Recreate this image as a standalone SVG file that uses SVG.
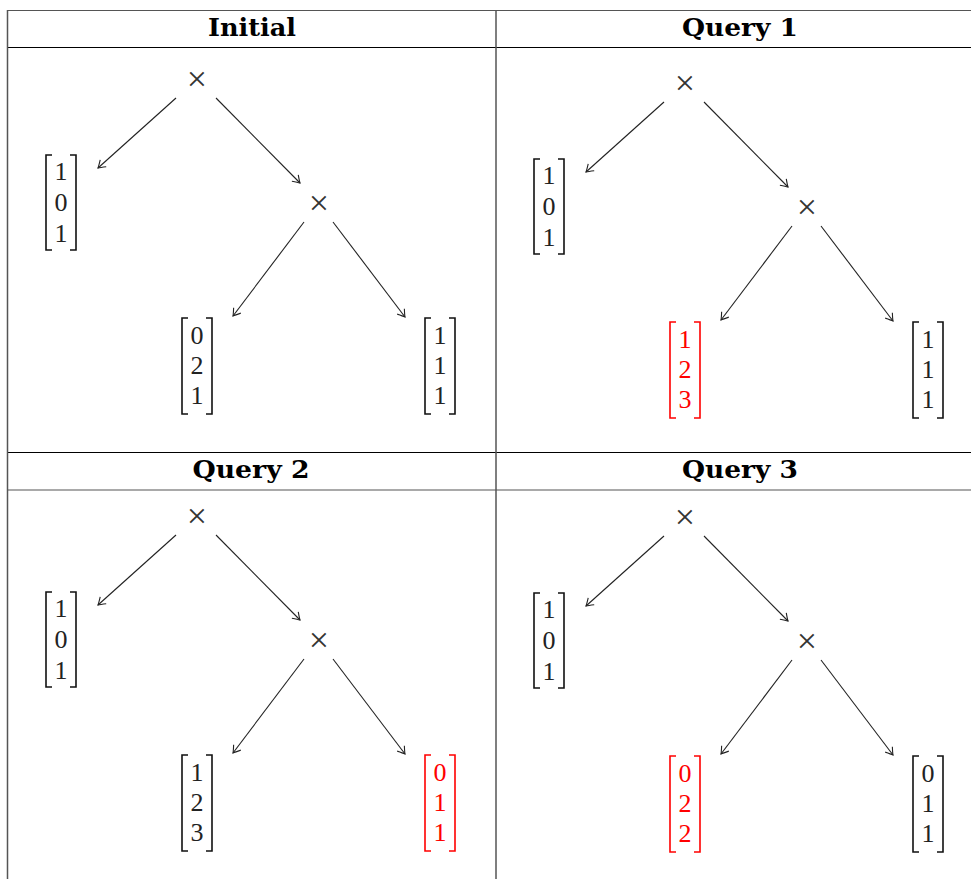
<svg xmlns="http://www.w3.org/2000/svg" width="971" height="879" viewBox="0 0 971 879">
<defs>
<style>
.hline{stroke:#000;stroke-width:1.2;fill:none}
.vline{stroke:#555;stroke-width:1.5;fill:none}
.hdr{font-family:"DejaVu Serif","Liberation Serif",serif;font-weight:bold;font-size:24px;text-anchor:middle;fill:#000}
.op{font-family:"Liberation Serif","DejaVu Serif",serif;font-size:36px;text-anchor:middle;fill:#333}
.num{font-family:"Liberation Serif","DejaVu Serif",serif;font-size:26px;text-anchor:middle;fill:#222}
.br{fill:none;stroke:#111;stroke-width:1.6}
.red .num{fill:#ff0000}
.red .br{stroke:#ff0000}
.edge{stroke:#222;stroke-width:1.1;fill:none;marker-end:url(#tip)}
</style>
<marker id="tip" markerWidth="14" markerHeight="14" refX="0" refY="0" viewBox="-10 -7 14 14" orient="auto" markerUnits="userSpaceOnUse">
<path d="M-7,-4.5 Q-2,-1 0,0 Q-2,1 -7,4.5" fill="none" stroke="#222" stroke-width="1.1"/>
</marker>
</defs>
<rect width="971" height="879" fill="#fff"/>
<g id="table">
<line class="hline" x1="7" y1="10.5" x2="971" y2="10.5" style="stroke:#555"/>
<line class="hline" x1="7" y1="47.5" x2="971" y2="47.5"/>
<line class="hline" x1="7" y1="452.5" x2="971" y2="452.5"/>
<line class="hline" x1="7" y1="490" x2="971" y2="490" style="stroke:#555"/>
<line class="vline" x1="7.5" y1="10" x2="7.5" y2="879"/>
<line class="vline" x1="496" y1="10" x2="496" y2="879"/>
<text class="hdr" x="252" y="36" textLength="88" lengthAdjust="spacingAndGlyphs">Initial</text>
<text class="hdr" x="740" y="36" textLength="116" lengthAdjust="spacingAndGlyphs">Query 1</text>
<text class="hdr" x="251" y="478" textLength="117" lengthAdjust="spacingAndGlyphs">Query 2</text>
<text class="hdr" x="740" y="478" textLength="116" lengthAdjust="spacingAndGlyphs">Query 3</text>
</g>

<!-- Panel: Initial -->
<g id="panel-initial">
<g id="init-connectors">
<line class="edge" x1="176" y1="98" x2="98" y2="168"/>
<line class="edge" x1="216" y1="98" x2="300" y2="183"/>
<line class="edge" x1="304" y1="222" x2="233" y2="316"/>
<line class="edge" x1="333" y1="222" x2="405" y2="317"/>
</g>
<g id="init-root"><text class="op" x="197" y="91">×</text></g>
<g id="init-mul"><text class="op" x="319" y="215">×</text></g>
<g id="init-a" transform="translate(45,155)"><path class="br" d="M7,0H1V95H7M25,0H31V95H25"/><text class="num" x="16" y="25">1</text><text class="num" x="16" y="56">0</text><text class="num" x="16" y="87">1</text></g>
<g id="init-b" transform="translate(181,318)"><path class="br" d="M7,0H1V96H7M25,0H31V96H25"/><text class="num" x="16" y="26">0</text><text class="num" x="16" y="56">2</text><text class="num" x="16" y="86">1</text></g>
<g id="init-c" transform="translate(424,318)"><path class="br" d="M7,0H1V96H7M25,0H31V96H25"/><text class="num" x="16" y="26">1</text><text class="num" x="16" y="56">1</text><text class="num" x="16" y="86">1</text></g>
</g>

<!-- Panel: Query 1 -->
<g id="panel-q1" transform="translate(488,4)">
<g id="q1-connectors">
<line class="edge" x1="176" y1="98" x2="98" y2="168"/>
<line class="edge" x1="216" y1="98" x2="300" y2="183"/>
<line class="edge" x1="304" y1="222" x2="233" y2="316"/>
<line class="edge" x1="333" y1="222" x2="405" y2="317"/>
</g>
<g id="q1-root"><text class="op" x="197" y="91">×</text></g>
<g id="q1-mul"><text class="op" x="319" y="215">×</text></g>
<g id="q1-a" transform="translate(45,155)"><path class="br" d="M7,0H1V95H7M25,0H31V95H25"/><text class="num" x="16" y="25">1</text><text class="num" x="16" y="56">0</text><text class="num" x="16" y="87">1</text></g>
<g id="q1-b" class="red" transform="translate(181,318)"><path class="br" d="M7,0H1V96H7M25,0H31V96H25"/><text class="num" x="16" y="26">1</text><text class="num" x="16" y="56">2</text><text class="num" x="16" y="86">3</text></g>
<g id="q1-c" transform="translate(424,318)"><path class="br" d="M7,0H1V96H7M25,0H31V96H25"/><text class="num" x="16" y="26">1</text><text class="num" x="16" y="56">1</text><text class="num" x="16" y="86">1</text></g>
</g>

<!-- Panel: Query 2 -->
<g id="panel-q2" transform="translate(0,437)">
<g id="q2-connectors">
<line class="edge" x1="176" y1="98" x2="98" y2="168"/>
<line class="edge" x1="216" y1="98" x2="300" y2="183"/>
<line class="edge" x1="304" y1="222" x2="233" y2="316"/>
<line class="edge" x1="333" y1="222" x2="405" y2="317"/>
</g>
<g id="q2-root"><text class="op" x="197" y="91">×</text></g>
<g id="q2-mul"><text class="op" x="319" y="215">×</text></g>
<g id="q2-a" transform="translate(45,155)"><path class="br" d="M7,0H1V95H7M25,0H31V95H25"/><text class="num" x="16" y="25">1</text><text class="num" x="16" y="56">0</text><text class="num" x="16" y="87">1</text></g>
<g id="q2-b" transform="translate(181,318)"><path class="br" d="M7,0H1V96H7M25,0H31V96H25"/><text class="num" x="16" y="26">1</text><text class="num" x="16" y="56">2</text><text class="num" x="16" y="86">3</text></g>
<g id="q2-c" class="red" transform="translate(424,318)"><path class="br" d="M7,0H1V96H7M25,0H31V96H25"/><text class="num" x="16" y="26">0</text><text class="num" x="16" y="56">1</text><text class="num" x="16" y="86">1</text></g>
</g>

<!-- Panel: Query 3 -->
<g id="panel-q3" transform="translate(488,438)">
<g id="q3-connectors">
<line class="edge" x1="176" y1="98" x2="98" y2="168"/>
<line class="edge" x1="216" y1="98" x2="300" y2="183"/>
<line class="edge" x1="304" y1="222" x2="233" y2="316"/>
<line class="edge" x1="333" y1="222" x2="405" y2="317"/>
</g>
<g id="q3-root"><text class="op" x="197" y="91">×</text></g>
<g id="q3-mul"><text class="op" x="319" y="215">×</text></g>
<g id="q3-a" transform="translate(45,155)"><path class="br" d="M7,0H1V95H7M25,0H31V95H25"/><text class="num" x="16" y="25">1</text><text class="num" x="16" y="56">0</text><text class="num" x="16" y="87">1</text></g>
<g id="q3-b" class="red" transform="translate(181,318)"><path class="br" d="M7,0H1V96H7M25,0H31V96H25"/><text class="num" x="16" y="26">0</text><text class="num" x="16" y="56">2</text><text class="num" x="16" y="86">2</text></g>
<g id="q3-c" transform="translate(424,318)"><path class="br" d="M7,0H1V96H7M25,0H31V96H25"/><text class="num" x="16" y="26">0</text><text class="num" x="16" y="56">1</text><text class="num" x="16" y="86">1</text></g>
</g>
</svg>
